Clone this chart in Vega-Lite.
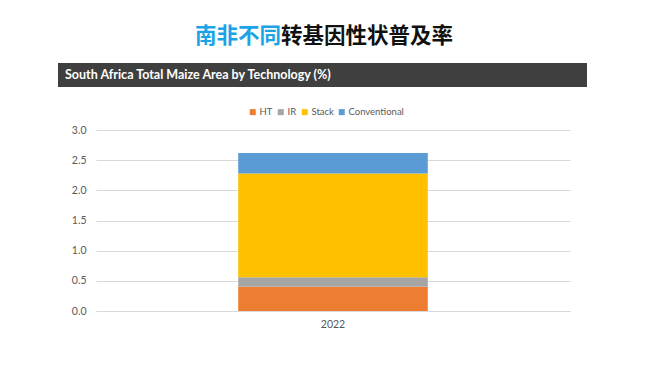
{
  "$schema": "https://vega.github.io/schema/vega-lite/v6.json",
  "background": "white",
  "padding": {"left": 58, "top": 9, "right": 5, "bottom": 5},
  "config": {"view": {"stroke": null}, "font": "Lato"},
  "datasets": {
    "maize": [
      {"year": "2022", "technology": "HT", "rank": 1, "area": 0.40},
      {"year": "2022", "technology": "IR", "rank": 2, "area": 0.16},
      {"year": "2022", "technology": "Stack", "rank": 3, "area": 1.72},
      {"year": "2022", "technology": "Conventional", "rank": 4, "area": 0.34}
    ]
  },
  "spacing": 16,
  "resolve": {"legend": {"color": "independent"}, "scale": {"color": "independent"}},
  "vconcat": [
    {
      "spacing": 0,
      "hconcat": [
        {
          "width": 223, "height": 27,
          "data": {"values": [{}]},
          "mark": {"type": "text", "text": " "},
          "title": {"text": "南非不同", "anchor": "end", "color": "#1BA3E6", "font": "Noto Sans CJK SC", "fontSize": 21.5, "fontWeight": "bold", "offset": -38}
        },
        {
          "width": 1, "height": 27,
          "data": {"values": [{}]},
          "mark": {"type": "text", "text": " "},
          "title": {"text": "转基因性状普及率", "anchor": "start", "color": "#111111", "font": "Noto Sans CJK SC", "fontSize": 21.5, "fontWeight": "bold", "offset": -38}
        }
      ]
    },
    {
      "spacing": 20,
      "resolve": {"legend": {"color": "independent"}, "scale": {"color": "independent"}},
      "vconcat": [
        {
          "width": 529, "height": 24,
          "view": {"fill": "#3F3F3F"},
          "data": {"values": [{"label": "South Africa Total Maize Area by Technology (%)"}]},
          "mark": {"type": "text", "align": "left", "dx": 7, "color": "white", "fontWeight": "bold", "fontSize": 12.5, "font": "Lato"},
          "encoding": {
            "text": {"field": "label"},
            "x": {"datum": 0, "type": "quantitative", "scale": {"domain": [0, 1]}, "axis": null}
          }
        },
        {
          "spacing": 0,
          "resolve": {"legend": {"color": "independent"}},
          "hconcat": [
            {
              "width": 1, "height": 1,
              "data": {"values": [{}]},
              "mark": {"type": "text", "text": " "}
            },
            {
              "width": 474, "height": 181,
              "data": {"name": "maize"},
              "mark": {"type": "bar"},
              "encoding": {
                "x": {"field": "year", "type": "nominal", "scale": {"paddingInner": 0.6, "paddingOuter": 0.3},
                      "axis": {"title": null, "labelAngle": 0, "ticks": false, "domainColor": "#d9d9d9", "labelColor": "#595959", "labelFontSize": 10.5, "labelPadding": 8}},
                "y": {"field": "area", "type": "quantitative", "stack": "zero", "scale": {"domain": [0, 3]},
                      "axis": {"title": null, "values": [0, 0.5, 1, 1.5, 2, 2.5, 3], "format": ".1f", "domain": false, "ticks": false, "gridColor": "#d9d9d9", "labelColor": "#595959", "labelFontSize": 10.5, "labelPadding": 10, "minExtent": 37}},
                "order": {"field": "rank", "type": "quantitative", "sort": "ascending"},
                "color": {"field": "technology", "type": "nominal", "sort": ["HT", "IR", "Stack", "Conventional"],
                          "scale": {"domain": ["HT", "IR", "Stack", "Conventional"], "range": ["#ED7D31", "#A5A5A5", "#FFC000", "#5B9BD5"]},
                          "legend": {"title": null, "orient": "none", "direction": "horizontal", "legendX": 152, "legendY": -23, "symbolType": "square", "symbolSize": 36, "symbolStrokeWidth": 0, "labelColor": "#595959", "labelFontSize": 9.5, "columnPadding": 3, "labelOffset": 2}}
              }
            }
          ]
        }
      ]
    }
  ]
}
